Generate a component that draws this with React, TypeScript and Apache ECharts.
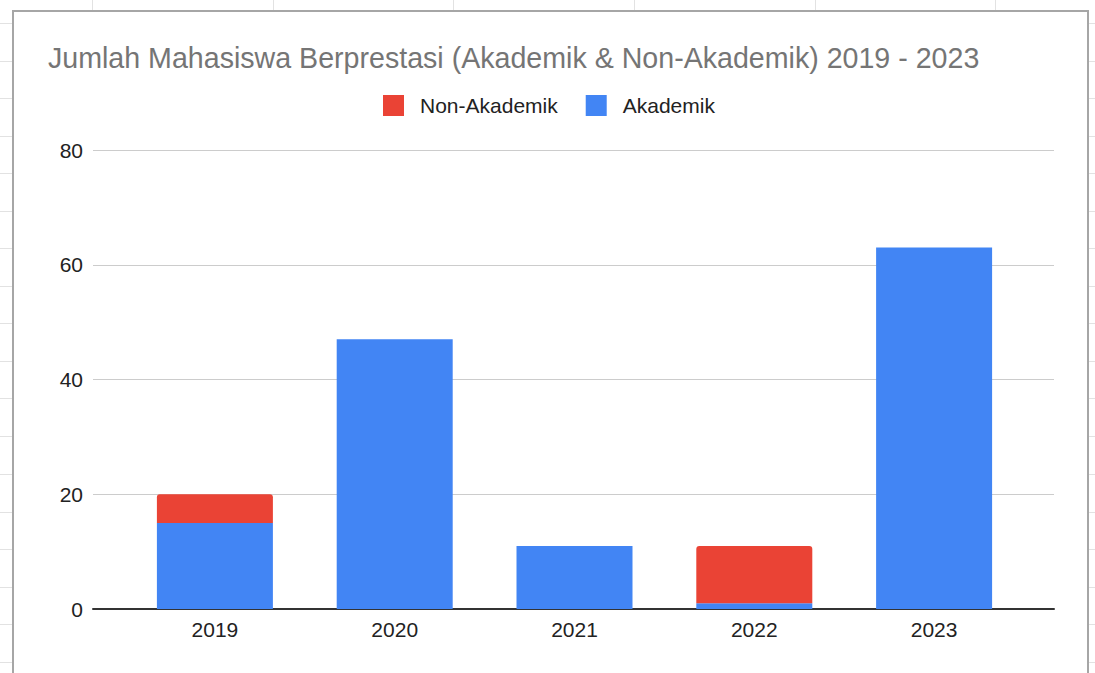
import React, { useEffect, useRef } from "react";
import * as echarts from "echarts";

const categories = ["2019", "2020", "2021", "2022", "2023"];
const akademik = [15, 47, 11, 1, 63];
const nonAkademik = [5, 0, 0, 10, 0];
const yTicks = [0, 20, 40, 60, 80];

const sheetCols = [92, 273, 453, 634, 815, 995];
const sheetRows = [23, 61, 98, 136, 173, 211, 248, 286, 323, 361, 398, 436, 474, 512, 549, 587, 624, 662];

export default function App() {
  const ref = useRef<HTMLDivElement>(null);
  useEffect(() => {
    if (!ref.current) return;
    const chart = echarts.init(ref.current, null, { renderer: "svg" });
    const font = "'Liberation Sans', Arial, sans-serif";
    const bg: any[] = [];
    sheetCols.forEach((x) =>
      bg.push({ type: "line", z: -20, shape: { x1: x + 0.5, y1: 0, x2: x + 0.5, y2: 673 }, style: { stroke: "#e2e2e2", lineWidth: 1 } })
    );
    sheetRows.forEach((y) =>
      bg.push({ type: "line", z: -20, shape: { x1: 0, y1: y + 0.5, x2: 1095, y2: y + 0.5 }, style: { stroke: "#e2e2e2", lineWidth: 1 } })
    );
    bg.push({
      type: "rect",
      z: -10,
      shape: { x: 13, y: 11, width: 1075, height: 700 },
      style: { fill: "#ffffff", stroke: "#a6a6a6", lineWidth: 2 },
    });
    chart.setOption({
      animation: false,
      backgroundColor: "#ffffff",
      graphic: bg,
      title: {
        text: "Jumlah Mahasiswa Berprestasi (Akademik & Non-Akademik) 2019 - 2023",
        left: 43,
        top: 38,
        textStyle: { fontFamily: font, fontSize: 28.6, fontWeight: "normal", color: "#757575" },
      },
      legend: {
        data: ["Non-Akademik", "Akademik"],
        left: 378,
        top: 90,
        itemWidth: 21,
        itemHeight: 21,
        itemGap: 28,
        icon: "rect",
        textStyle: { fontFamily: font, fontSize: 21, color: "#222222", padding: [0, 0, 0, 11] },
      },
      grid: [
        { left: 93, right: 41, top: 150, bottom: 64 },
        { left: 125, right: 71, top: 150, bottom: 64 },
      ],
      xAxis: [
        {
          gridIndex: 0,
          type: "value",
          min: 0,
          max: 1,
          axisLine: { show: true, onZero: true, lineStyle: { color: "#333333", width: 2 } },
          axisTick: { show: false },
          axisLabel: { show: false },
          splitLine: { show: false },
        },
        {
          gridIndex: 1,
          type: "category",
          data: categories,
          axisLine: { show: false },
          axisTick: { show: false },
          axisLabel: { fontFamily: font, fontSize: 21, color: "#222222", margin: 10 },
        },
      ],
      yAxis: [
        {
          gridIndex: 0,
          type: "value",
          min: yTicks[0],
          max: yTicks[yTicks.length - 1],
          interval: 20,
          axisLine: { show: false },
          axisTick: { show: false },
          axisLabel: { fontFamily: font, fontSize: 21, color: "#222222", margin: 10 },
          splitLine: { lineStyle: { color: "#cccccc", width: 1 } },
        },
        {
          gridIndex: 1,
          type: "value",
          min: yTicks[0],
          max: yTicks[yTicks.length - 1],
          interval: 20,
          show: false,
        },
      ],
      series: [
        {
          name: "Akademik",
          type: "bar",
          xAxisIndex: 1,
          yAxisIndex: 1,
          stack: "total",
          barWidth: 116,
          data: akademik,
          itemStyle: { color: "#4285f4" },
        },
        {
          name: "Non-Akademik",
          type: "bar",
          xAxisIndex: 1,
          yAxisIndex: 1,
          stack: "total",
          barWidth: 116,
          data: nonAkademik,
          itemStyle: { color: "#ea4335", borderRadius: [3, 3, 0, 0] },
        },
      ],
    });
    return () => chart.dispose();
  }, []);
  return <div ref={ref} style={{ position: "absolute", left: 0, top: 0, width: 1095, height: 673 }} />;
}
